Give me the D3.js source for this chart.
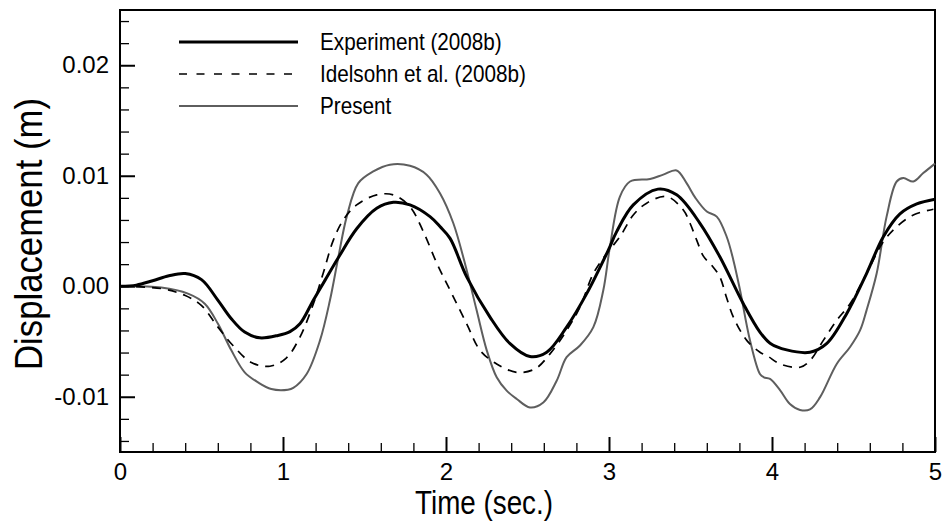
<!DOCTYPE html>
<html>
<head>
<meta charset="utf-8">
<script src="https://cdn.jsdelivr.net/npm/d3@7"></script>
<style>
  html, body { margin: 0; padding: 0; background: #fff; }
  svg { display: block; }
  text { font-family: "Liberation Sans", Arial, sans-serif; fill: #000; }
</style>
</head>
<body>
<svg id="chart" width="946" height="525"></svg>
<script>
// Tip displacement (m) against time (s)
const experimentT = [0, 0.1, 0.2, 0.3, 0.4, 0.5, 0.6, 0.683, 0.765, 0.857, 0.969, 1.043, 1.104, 1.186, 1.26, 1.34, 1.452, 1.575, 1.677, 1.779, 1.902, 1.963, 2.025, 2.127, 2.27, 2.393, 2.515, 2.618, 2.74, 2.863, 2.996, 3.047, 3.149, 3.30, 3.415, 3.558, 3.68, 3.824, 3.926, 3.988, 4.09, 4.233, 4.335, 4.458, 4.58, 4.683, 4.785, 4.888, 5.0];
const experimentV = [0, 0.0001, 0.0005, 0.00095, 0.00115, 0.0006, -0.00125, -0.00294, -0.00415, -0.00467, -0.00445, -0.0041, -0.0034, -0.00127, 0.0006, 0.0026, 0.0052, 0.00705, 0.0076, 0.00736, 0.0063, 0.0054, 0.00433, 0.00085, -0.00279, -0.0052, -0.00636, -0.00597, -0.0037, -0.00067, 0.00327, 0.00494, 0.00736, 0.00879, 0.00827, 0.0057, 0.00267, -0.00158, -0.00415, -0.00515, -0.00576, -0.00597, -0.0052, -0.00248, 0.00115, 0.00448, 0.00655, 0.00745, 0.00788];

const idelsohnT = [0, 0.253, 0.397, 0.499, 0.601, 0.693, 0.806, 0.92, 1.02, 1.104, 1.186, 1.247, 1.309, 1.37, 1.452, 1.575, 1.677, 1.779, 1.861, 1.943, 2.015, 2.127, 2.209, 2.311, 2.434, 2.546, 2.638, 2.74, 2.822, 2.904, 2.986, 3.067, 3.149, 3.231, 3.354, 3.456, 3.497, 3.538, 3.58, 3.63, 3.68, 3.72, 3.763, 3.845, 3.926, 3.977, 4.049, 4.172, 4.233, 4.315, 4.397, 4.479, 4.58, 4.683, 4.765, 4.867, 4.99];
const idelsohnV = [0, -0.00021, -0.00082, -0.00173, -0.0037, -0.00536, -0.0069, -0.00724, -0.0065, -0.0046, -0.0016, 0.0012, 0.00418, 0.006, 0.00736, 0.00827, 0.00827, 0.0072, 0.00494, 0.0021, -0.00006, -0.0034, -0.0058, -0.00703, -0.00779, -0.00748, -0.00612, -0.004, -0.00188, 0.00115, 0.00297, 0.00448, 0.00645, 0.00752, 0.00812, 0.0069, 0.0057, 0.00418, 0.0027, 0.0019, 0.00085, -0.00097, -0.00279, -0.0049, -0.00597, -0.00636, -0.00703, -0.00733, -0.00673, -0.0049, -0.00309, -0.00158, 0.00115, 0.00403, 0.00539, 0.00645, 0.00697];

const presentT = [0, 0.253, 0.417, 0.52, 0.601, 0.683, 0.765, 0.847, 0.928, 1.03, 1.063, 1.145, 1.227, 1.288, 1.34, 1.391, 1.462, 1.554, 1.656, 1.779, 1.881, 1.963, 2.045, 2.127, 2.188, 2.25, 2.311, 2.372, 2.434, 2.515, 2.597, 2.679, 2.74, 2.822, 2.904, 2.965, 3.006, 3.067, 3.129, 3.252, 3.333, 3.415, 3.476, 3.53, 3.6, 3.661, 3.722, 3.763, 3.804, 3.865, 3.926, 3.95, 3.988, 4.049, 4.11, 4.172, 4.233, 4.294, 4.397, 4.479, 4.54, 4.58, 4.642, 4.703, 4.765, 4.806, 4.867, 4.928, 5.0];
const presentV = [0, -0.00012, -0.00067, -0.00158, -0.0034, -0.0058, -0.00779, -0.0087, -0.0093, -0.00936, -0.0092, -0.00794, -0.0049, -0.00127, 0.00267, 0.0063, 0.00933, 0.01039, 0.011, 0.0109, 0.0101, 0.00842, 0.0057, 0.00145, -0.00218, -0.0058, -0.00824, -0.00945, -0.0102, -0.01097, -0.01052, -0.00855, -0.00642, -0.00536, -0.0037, -0.00036, 0.0036, 0.00812, 0.00948, 0.0097, 0.0101, 0.01048, 0.00933, 0.008, 0.00676, 0.0063, 0.00448, 0.00236, -0.00036, -0.0049, -0.00794, -0.00824, -0.00839, -0.0094, -0.01066, -0.0112, -0.01115, -0.01006, -0.00703, -0.0055, -0.004, -0.00218, 0.00115, 0.0063, 0.00948, 0.00979, 0.00948, 0.01024, 0.0111];

const xMajor = [0, 1, 2, 3, 4, 5];
const yMajor = [-0.01, 0, 0.01, 0.02];
const seriesNames = ["Experiment (2008b)", "Idelsohn et al. (2008b)", "Present"];

const svg = d3.select("#chart");
const frame = { left: 120, right: 935, top: 10, bottom: 452 };

const x = d3.scaleLinear().domain([0, 5]).range([frame.left, frame.right]);
const y = d3.scaleLinear().domain([-0.015, 0.025]).range([frame.bottom, frame.top]);

const xMinor = d3.range(0, 5.0001, 0.2).filter(v => Math.abs(v - Math.round(v)) > 1e-6);
const yMinor = d3.range(-0.014, 0.0241, 0.002).filter(v => Math.abs(v * 100 - Math.round(v * 100)) > 1e-6);

// minor ticks (inward)
svg.append("g").attr("transform", `translate(0,${frame.bottom})`)
  .call(d3.axisBottom(x).tickValues(xMinor).tickSize(-9).tickFormat(""))
  .call(g => g.select(".domain").remove())
  .call(g => g.selectAll("line").attr("stroke", "#000").attr("stroke-width", 1.3));
svg.append("g").attr("transform", `translate(${frame.left},0)`)
  .call(d3.axisLeft(y).tickValues(yMinor).tickSize(-9).tickFormat(""))
  .call(g => g.select(".domain").remove())
  .call(g => g.selectAll("line").attr("stroke", "#000").attr("stroke-width", 1.3));

// major ticks with labels
svg.append("g").attr("transform", `translate(0,${frame.bottom})`)
  .call(d3.axisBottom(x).tickValues(xMajor).tickSize(-15).tickPadding(11).tickFormat(d3.format("d")))
  .call(g => g.select(".domain").remove())
  .call(g => g.selectAll("line").attr("stroke", "#000").attr("stroke-width", 2))
  .call(g => g.selectAll("text").attr("font-size", 24).attr("font-family", "Liberation Sans, Arial, sans-serif").attr("fill", "#000"));
svg.append("g").attr("transform", `translate(${frame.left},0)`)
  .call(d3.axisLeft(y).tickValues(yMajor).tickSize(-15).tickPadding(11).tickFormat(d => d.toFixed(2)))
  .call(g => g.select(".domain").remove())
  .call(g => g.selectAll("line").attr("stroke", "#000").attr("stroke-width", 2))
  .call(g => g.selectAll("text").attr("font-size", 24).attr("font-family", "Liberation Sans, Arial, sans-serif").attr("fill", "#000"));

// frame
svg.append("rect")
  .attr("x", frame.left).attr("y", frame.top)
  .attr("width", frame.right - frame.left).attr("height", frame.bottom - frame.top)
  .attr("fill", "none").attr("stroke", "#000").attr("stroke-width", 2);

const line = d3.line()
  .x(d => x(d[0])).y(d => y(d[1]))
  .curve(d3.curveCatmullRom.alpha(0.5));

const series = [
  { name: seriesNames[0], t: experimentT, v: experimentV, color: "#000", width: 3, dash: null },
  { name: seriesNames[1], t: idelsohnT, v: idelsohnV, color: "#000", width: 1.7, dash: "9,7" },
  { name: seriesNames[2], t: presentT, v: presentV, color: "#5e5e5e", width: 2, dash: null }
];

const plot = svg.append("g");
[series[2], series[1], series[0]].forEach(s => {
  plot.append("path")
    .datum(d3.zip(s.t, s.v))
    .attr("d", line)
    .attr("fill", "none")
    .attr("stroke", s.color)
    .attr("stroke-width", s.width)
    .attr("stroke-linejoin", "round")
    .attr("stroke-dasharray", s.dash);
});

// legend
const legend = svg.append("g");
series.forEach((s, i) => {
  const ly = 42 + i * 32;
  legend.append("line")
    .attr("x1", 179).attr("x2", 298).attr("y1", ly).attr("y2", ly)
    .attr("stroke", s.color).attr("stroke-width", s.width)
    .attr("stroke-dasharray", s.dash ? "8,9.5" : null);
  legend.append("text")
    .attr("transform", `translate(320,${ly + 8}) scale(0.9,1)`)
    .attr("font-size", 23)
    .text(s.name);
});

// axis titles
svg.append("text")
  .attr("x", 484).attr("y", 514)
  .attr("text-anchor", "middle")
  .attr("font-size", 34)
  .attr("textLength", 138).attr("lengthAdjust", "spacingAndGlyphs")
  .text("Time (sec.)");

svg.append("text")
  .attr("transform", "translate(42,234) rotate(-90)")
  .attr("text-anchor", "middle")
  .attr("font-size", 38)
  .attr("textLength", 272).attr("lengthAdjust", "spacingAndGlyphs")
  .text("Displacement (m)");
</script>
</body>
</html>
